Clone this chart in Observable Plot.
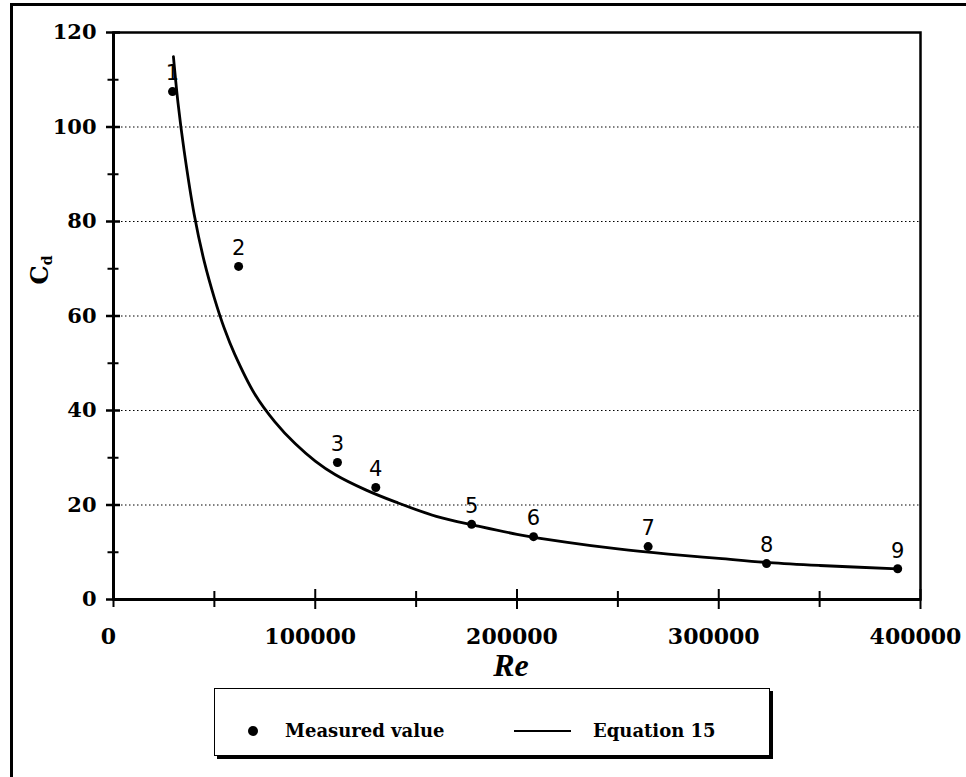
<!DOCTYPE html>
<html><head><meta charset="utf-8">
<script src="https://cdn.jsdelivr.net/npm/d3@7"></script>
<script src="https://cdn.jsdelivr.net/npm/@observablehq/plot@0.6"></script>
<style>
html,body{margin:0;padding:0;background:#fff;overflow:hidden;width:966px;height:777px;}
#wrap{position:relative;width:966px;height:777px;overflow:hidden;}
#frame{position:absolute;left:10px;top:3px;width:1000px;height:800px;border-left:3px solid #000;border-top:3px solid #000;}
#chart{position:absolute;left:0;top:0;}
#ylab{position:absolute;left:40px;top:270px;transform:translate(-50%,-50%) rotate(-90deg);font-family:"DejaVu Serif";font-weight:bold;font-size:24px;white-space:nowrap;}
#ylab sub{font-size:14px;vertical-align:-4px;}
#legend{position:absolute;left:214px;top:688px;width:554px;height:66px;border:1.5px solid #000;box-shadow:3px 3px 0 #000;background:#fff;font-family:"DejaVu Serif";font-weight:bold;font-size:18px;}
#legend .dot{position:absolute;left:33px;top:37px;width:10px;height:10px;border-radius:50%;background:#000;}
#legend .ln{position:absolute;left:299px;top:41px;width:57px;height:2px;background:#000;}
#legend .t{position:absolute;top:31px;line-height:22px;white-space:nowrap;}
</style></head>
<body><div id="wrap"><div id="frame"></div><div id="chart"></div>
<div id="ylab">C<sub>d</sub></div>
<div id="legend"><div class="dot"></div><div class="t" style="left:70px">Measured value</div><div class="ln"></div><div class="t" style="left:378px">Equation 15</div></div>
</div>
<script>
// Measured values
const reValues = [29250, 62000, 111000, 130000, 177500, 208200, 265000, 323700, 388700];
const cdValues = [107.5, 70.5, 29.0, 23.7, 15.9, 13.3, 11.2, 7.6, 6.5];
const pointLabels = ["1","2","3","4","5","6","7","8","9"];
// Equation 15 curve
const curveRe = [29700, 32000, 35000, 40000, 45000, 50000, 55000, 60000, 70000, 80000, 90000, 100000, 110000, 125000, 140000, 160000, 180000, 200000, 225000, 250000, 275000, 300000, 325000, 350000, 388700];
const curveCd = [114.9, 105.0, 95.0, 81.5, 71.5, 63.8, 57.3, 52.0, 43.5, 37.6, 33.0, 29.3, 26.4, 23.2, 20.6, 17.6, 15.6, 13.8, 12.1, 10.7, 9.6, 8.7, 7.8, 7.2, 6.5];
// Ticks
const yTicks = [0, 20, 40, 60, 80, 100, 120];
const yMinorTicks = [10, 30, 50, 70, 90, 110];
const gridTicks = [20, 40, 60, 80, 100];
const xTicks = [0, 50000, 150000, 250000, 350000];
const xMajorTicks = [100000, 200000, 300000, 400000];
const xLabelTicks = [0, 100000, 200000, 300000, 400000];

const points = reValues.map((re, i) => ({re, cd: cdValues[i], label: pointLabels[i]}));
const curve = curveRe.map((re, i) => ({re, cd: curveCd[i]}));

const chart = Plot.plot({
  width: 966, height: 680,
  marginLeft: 113, marginRight: 46, marginTop: 32, marginBottom: 81,
  x: {domain: [0, 400000], label: null},
  y: {domain: [0, 120], label: null},
  style: {fontFamily: "DejaVu Serif", background: "transparent", overflow: "visible", color: "#000"},
  marks: [
    Plot.gridY(gridTicks, {stroke: "#000", strokeOpacity: 1, strokeDasharray: "1.5,2.5", strokeWidth: 1}),
    Plot.frame({stroke: "#000", strokeWidth: 2.5}),
    Plot.axisY(yMinorTicks, {tickSize: 11, dx: 5.5, tickFormat: () => "", strokeWidth: 2, stroke: "#000", label: null}),
    Plot.axisY(yTicks, {tickSize: 14, dx: 7, tickFormat: () => "", strokeWidth: 2.5, stroke: "#000", label: null}),
    Plot.axisY(yTicks, {tickSize: 0, tickPadding: 17, fontSize: 21, fontWeight: "bold", fill: "#000", label: null}),
    Plot.axisX(xTicks, {tickSize: 16, dy: -8, tickFormat: () => "", strokeWidth: 2, stroke: "#000", label: null}),
    Plot.axisX(xMajorTicks, {tickSize: 20, dy: -10, tickFormat: () => "", strokeWidth: 2, stroke: "#000", label: null}),
    Plot.axisX(xLabelTicks, {tickSize: 0, tickPadding: 29, dx: -5, fontSize: 22, fontWeight: "bold", fill: "#000", tickFormat: "d", label: null}),
    Plot.ruleY([0], {strokeWidth: 3, stroke: "#000"}),
    Plot.ruleX([0], {strokeWidth: 3, stroke: "#000"}),
    Plot.line(curve, {x: "re", y: "cd", curve: "catmull-rom", stroke: "#000", strokeWidth: 2.8}),
    Plot.dot(points, {x: "re", y: "cd", r: 4.5, fill: "#000"}),
    Plot.text(points, {x: "re", y: "cd", text: "label", dy: -18, fontSize: 21, fontFamily: "DejaVu Sans", fill: "#000"}),
    Plot.text(["Re"], {frameAnchor: "bottom", dx: -6, dy: 76, fontSize: 32, fontFamily: "Liberation Serif", fontWeight: "bold", fontStyle: "italic", fill: "#000"})
  ]
});
document.getElementById("chart").appendChild(chart);
</script>
</body></html>
